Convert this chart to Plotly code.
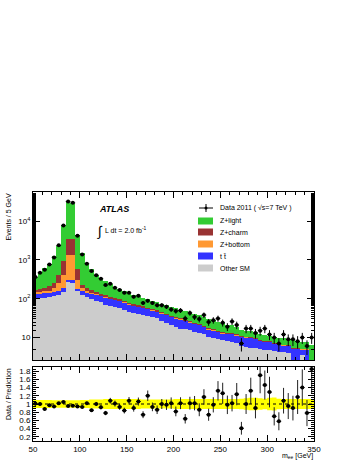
import math
import plotly.graph_objects as go

# ---------------- data ----------------
bin_low = [50 + 5 * i for i in range(60)]
bin_width = 5

data = [360, 466, 560, 766, 1160, 2370, 7740, 32100, 29600, 4190,
        1380, 795, 514, 405, 327, 224, 242, 191, 167, 142,
        142, 112, 119, 78, 88, 78, 68, 68, 62, 53,
        48, 50, 31, 43, 34, 30, 38, 25, 28, 31,
        24, 19, 26, 21, 7, 17, 17, 13, 15, 17,
        12, 10, 7, 12, 9, 9, 8, 10, 6, 10]

other_sm = [102, 104, 107, 110, 114, 122, 150, 270, 265, 155,
            125, 108, 96, 88, 80, 70, 64, 60, 56, 51,
            46, 43, 40, 37, 35, 33, 31, 27, 24, 21,
            19, 17, 16.5, 15.5, 14, 13, 12, 10.5, 10, 9,
            8.5, 8.2, 7.8, 7.2, 6.0, 5.8, 5.5, 5.4, 5.0, 4.8,
            4.7, 4.5, 4.3, 4.2, 4.0, 2.2, 2.3, 3.6, 2.0, 1.0]

ttbar = [35, 36, 36, 36, 36, 38, 35, 30, 30, 20,
         40, 40, 39, 38, 38, 38, 36, 35, 32, 29,
         24, 23, 22, 21, 20, 17, 16, 15, 14, 13,
         12, 12, 10.5, 9.5, 9, 8, 7, 6, 5.5, 5,
         4.3, 4.3, 4.6, 4.3, 4.5, 4.4, 4.3, 3.8, 3.2, 3.0,
         3.1, 2.5, 2.2, 2.1, 2.2, 3.0, 2.8, 1.4, 3.0, 0.9]

z_bottom = [8, 10, 12, 16, 35, 90, 235, 1030, 1005, 125,
            20, 12, 8, 6, 5, 4, 4, 3, 3, 3,
            3, 2, 2, 2, 2, 2, 1, 1, 1, 1,
            1, 1, 0.8, 0.7, 0.6, 0.5, 0.5, 0.5, 0.5, 0.4,
            0.4, 0.4, 0.3, 0.3, 0.3, 0.2, 0.2, 0.2, 0.2, 0.2,
            0.2, 0.2, 0.2, 0.2, 0.1, 0.1, 0.1, 0.1, 0.1, 0.1]

z_charm = [22, 25, 35, 48, 75, 170, 510, 2230, 2200, 300,
           45, 30, 22, 18, 13, 10, 8, 7, 6, 5,
           4, 4, 3, 3, 2, 2, 2, 2, 2, 1,
           1, 1, 0.7, 0.8, 0.7, 0.5, 0.5, 0.5, 0.4, 0.4,
           0.4, 0.3, 0.3, 0.3, 0.2, 0.2, 0.3, 0.2, 0.2, 0.2,
           0.2, 0.2, 0.2, 0.1, 0.1, 0.1, 0.1, 0.1, 0.1, 0.1]

z_light = [190, 290, 420, 580, 970, 1910, 6470, 29440, 26000, 3700,
           1250, 600, 435, 270, 214, 163, 128, 100, 83, 72,
           63, 56, 50, 43, 38, 35, 32, 30, 27, 26,
           24, 21, 19.5, 17.5, 16.7, 15, 14, 12.5, 11.6, 10.7,
           9.4, 8.3, 7.5, 6.9, 5.0, 4.4, 4.3, 4.2, 3.6, 3.3,
           2.8, 3.0, 3.1, 3.0, 2.8, 3.4, 2.9, 2.4, 2.6, 4.4]

ratio = [1.01, 1.0, 0.88, 0.97, 0.94, 1.02, 1.05, 0.95, 0.96, 0.94,
         0.93, 1.02, 0.85, 1.0, 0.92, 0.78, 1.08, 1.01, 0.93, 0.84,
         1.08, 0.9, 1.06, 0.74, 1.2, 0.93, 0.86, 1.0, 0.98, 1.02,
         0.82, 1.02, 0.64, 1.02, 1.02, 0.86, 1.17, 0.74, 0.98, 1.32,
         1.26, 0.98, 1.02, 1.24, 0.41, 1.0, 1.32, 0.9, 1.7, 1.46,
         1.29, 0.7, 0.58, 1.08, 0.95, 0.9, 1.17, 1.4, 0.78, 1.85]

band_halfwidth = [0.10, 0.10, 0.10, 0.10, 0.09, 0.09, 0.09, 0.09, 0.09, 0.09,
                  0.10, 0.10, 0.11, 0.11, 0.11, 0.12, 0.12, 0.12, 0.12, 0.12,
                  0.12, 0.12, 0.12, 0.11, 0.11, 0.11, 0.11, 0.11, 0.11, 0.11,
                  0.12, 0.12, 0.12, 0.12, 0.12, 0.12, 0.12, 0.12, 0.12, 0.12,
                  0.12, 0.12, 0.12, 0.12, 0.13, 0.14, 0.15, 0.15, 0.14, 0.13,
                  0.15, 0.16, 0.13, 0.12, 0.12, 0.12, 0.12, 0.12, 0.12, 0.12]

y_tick_vals = [10, 100, 1000, 10000]
y_tick_text = ["10", "10<sup>2</sup>", "10<sup>3</sup>", "10<sup>4</sup>"]
r_tick_vals = [0.2, 0.4, 0.6, 0.8, 1.0, 1.2, 1.4, 1.6, 1.8]
r_tick_text = ["0.2", "0.4", "0.6", "0.8", "1", "1.2", "1.4", "1.6", "1.8"]
x_tick_vals = [50, 100, 150, 200, 250, 300, 350]

# ---------------- derived ----------------
centers = [b + bin_width / 2 for b in bin_low]
edges = bin_low + [bin_low[-1] + bin_width]
data_err = [math.sqrt(v) for v in data]
ratio_err = [r / math.sqrt(v) for r, v in zip(ratio, data)]
band_up = [1 + h for h in band_halfwidth]
band_dn = [1 - h for h in band_halfwidth]

W, H = 357, 462
def px(xp):
    return xp / W
def py(yp):
    return 1 - yp / H

FONT = "Liberation Sans, Arial, Helvetica, sans-serif"

fig = go.Figure()

stack = [("Other SM", other_sm, "#cccccc"),
         ("tt", ttbar, "#3333ff"),
         ("Z+bottom", z_bottom, "#ff9933"),
         ("Z+charm", z_charm, "#993333"),
         ("Z+light", z_light, "#33cc33")]
for name, vals, col in stack:
    fig.add_trace(go.Bar(x=centers, y=vals, width=[bin_width] * len(centers),
                         marker=dict(color=col, line=dict(width=0)),
                         name=name, xaxis="x", yaxis="y", showlegend=False))

fig.add_trace(go.Scatter(x=centers, y=data, mode="markers",
                         marker=dict(color="black", size=4),
                         error_y=dict(type="data", array=data_err, color="black", thickness=1, width=0),
                         error_x=dict(type="constant", value=bin_width / 2, color="black", thickness=1, width=0),
                         xaxis="x", yaxis="y", showlegend=False))

# ratio band
fig.add_trace(go.Scatter(x=edges, y=band_dn + [band_dn[-1]], mode="lines",
                         line=dict(shape="hv", width=0, color="#ffff00"),
                         xaxis="x2", yaxis="y2", showlegend=False, hoverinfo="skip"))
fig.add_trace(go.Scatter(x=edges, y=band_up + [band_up[-1]], mode="lines",
                         line=dict(shape="hv", width=0, color="#ffff00"),
                         fill="tonexty", fillcolor="#ffff00",
                         xaxis="x2", yaxis="y2", showlegend=False, hoverinfo="skip"))

fig.add_trace(go.Scatter(x=centers, y=ratio, mode="markers",
                         marker=dict(color="black", size=4),
                         error_y=dict(type="data", array=ratio_err, color="#222222", thickness=1, width=0),
                         error_x=dict(type="constant", value=bin_width / 2, color="black", thickness=1, width=0),
                         xaxis="x2", yaxis="y2", showlegend=False))

xdom = [px(33), px(314)]
axis_common = dict(showline=True, linecolor="black", linewidth=1, mirror="ticks",
                   ticks="inside", tickcolor="black", showgrid=False, zeroline=False,
                   automargin=False,
                   tickfont=dict(family=FONT, size=8, color="black"))

fig.update_layout(
    width=W, height=H, margin=dict(l=0, r=0, t=0, b=0),
    paper_bgcolor="white", plot_bgcolor="white",
    barmode="stack", bargap=0,
    font=dict(family=FONT, color="black"),
    xaxis=dict(domain=xdom, anchor="y", range=[50, 350], tickvals=x_tick_vals,
               showticklabels=False, ticklen=6,
               minor=dict(ticks="inside", dtick=10, ticklen=3, tickcolor="black"),
               **axis_common),
    yaxis=dict(domain=[py(360), py(192)], anchor="x", type="log", range=[0.42, 4.75],
               tickvals=y_tick_vals, ticktext=y_tick_text, ticklen=7,
               minor=dict(ticks="inside", ticklen=3, tickcolor="black"),
               **axis_common),
    xaxis2=dict(domain=xdom, anchor="y2", range=[50, 350], tickvals=x_tick_vals,
                ticklen=6,
                minor=dict(ticks="inside", dtick=10, ticklen=3, tickcolor="black"),
                **axis_common),
    yaxis2=dict(domain=[py(441), py(367)], anchor="x2", range=[0.1, 1.9],
                tickvals=r_tick_vals, ticktext=r_tick_text, ticklen=6,
                minor=dict(ticks="inside", dtick=0.05, ticklen=3, tickcolor="black"),
                **axis_common),
)

fig.add_shape(type="line", xref="x2", yref="y2", x0=50, x1=350, y0=1, y1=1,
              line=dict(color="black", width=1, dash="dot"))

ann = []
def text(x, y, s, size=8, xanchor="left", yanchor="middle", angle=0):
    ann.append(dict(xref="paper", yref="paper", x=px(x), y=py(y), text=s,
                    showarrow=False, xanchor=xanchor, yanchor=yanchor, textangle=angle,
                    font=dict(family=FONT, size=size, color="black")))

text(8, 192, "Events / 5 GeV", size=7, xanchor="center", yanchor="top", angle=-90)
text(8, 366, "Data / Prediction", size=7, xanchor="center", yanchor="top", angle=-90)
text(315, 456, "m<sub>ee</sub> [GeV]", size=7, xanchor="right")
text(97, 209, "<b><i>ATLAS</i></b>", size=9)
text(95, 231, "∫", size=14)
text(103, 230, "L dt = 2.0 fb<sup>-1</sup>", size=7)

# legend
leg_y = [208, 221, 232, 244, 256, 268]
leg_lab = ["Data 2011 ( √s=7 TeV )", "Z+light", "Z+charm", "Z+bottom", "t t\u0304", "Other SM"]
leg_col = [None, "#33cc33", "#993333", "#ff9933", "#3333ff", "#cccccc"]
for yy, lab, col in zip(leg_y, leg_lab, leg_col):
    text(218, yy, lab, size=7)
    if col is None:
        fig.add_shape(type="line", xref="paper", yref="paper", x0=px(199), x1=px(213),
                      y0=py(yy), y1=py(yy), line=dict(color="black", width=1))
        fig.add_shape(type="line", xref="paper", yref="paper", x0=px(206), x1=px(206),
                      y0=py(yy - 4), y1=py(yy + 4), line=dict(color="black", width=1))
        fig.add_shape(type="circle", xref="paper", yref="paper", x0=px(204.5), x1=px(207.5),
                      y0=py(yy + 1.5), y1=py(yy - 1.5), fillcolor="black", line=dict(width=0))
    else:
        fig.add_shape(type="rect", xref="paper", yref="paper", x0=px(198), x1=px(213),
                      y0=py(yy + 3.5), y1=py(yy - 3.5), fillcolor=col, line=dict(width=0))

fig.update_layout(annotations=ann)
fig.write_html("out.html", config={"displayModeBar": False},
               post_script="document.body.style.margin='0';document.body.style.overflow='hidden';")
